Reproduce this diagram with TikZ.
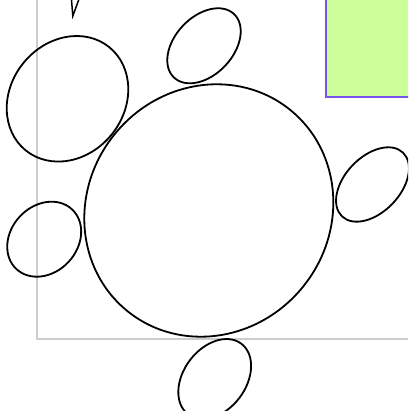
\documentclass[tikz,border=0pt]{standalone}
\definecolor{framegray}{HTML}{CCCCCC}
\definecolor{boxgreen}{HTML}{CCFF99}
\definecolor{boxpurple}{HTML}{7755EE}
\tikzset{
  blob/.style={draw=black, line width=1.8pt},
  frameline/.style={draw=framegray, line width=2pt},
}
\begin{document}
\begin{tikzpicture}[x=1pt,y=1pt]
\useasboundingbox (0,0) rectangle (408,411);
\begin{scope}
\clip (0,0) rectangle (408,411);
% grey frame
\draw[frameline] (36.5,420) -- (36.5,72) -- (420,72);
% green box
\draw[draw=boxpurple, fill=boxgreen, line width=2pt] (325.5,420) rectangle (420,314);
% triangle
\draw[blob, line width=1.5pt, line join=miter] (70.8,420) -- (72.8,395) -- (82,420);
% big circle
\draw[blob, rotate around={51:(208.8,200.5)}] (208.8,200.5) ellipse [x radius=129.4, y radius=121.2];
% top-left
\draw[blob, rotate around={51:(67.5,312.2)}] (67.5,312.2) ellipse [x radius=66.4, y radius=56.8];
% top
\draw[blob, rotate around={46.6:(204,365.2)}] (204,365.2) ellipse [x radius=43.7, y radius=29.1];
% left-bottom
\draw[blob, rotate around={47:(44.2,171.8)}] (44.2,171.8) ellipse [x radius=40.8, y radius=33.3];
% right
\draw[blob, rotate around={46.3:(372.5,226.5)}] (372.5,226.5) ellipse [x radius=44.1, y radius=27.7];
% bottom
\draw[blob, rotate around={53:(214.7,32)}] (214.7,32) ellipse [x radius=44.2, y radius=31.1];
\end{scope}
\end{tikzpicture}
\end{document}
